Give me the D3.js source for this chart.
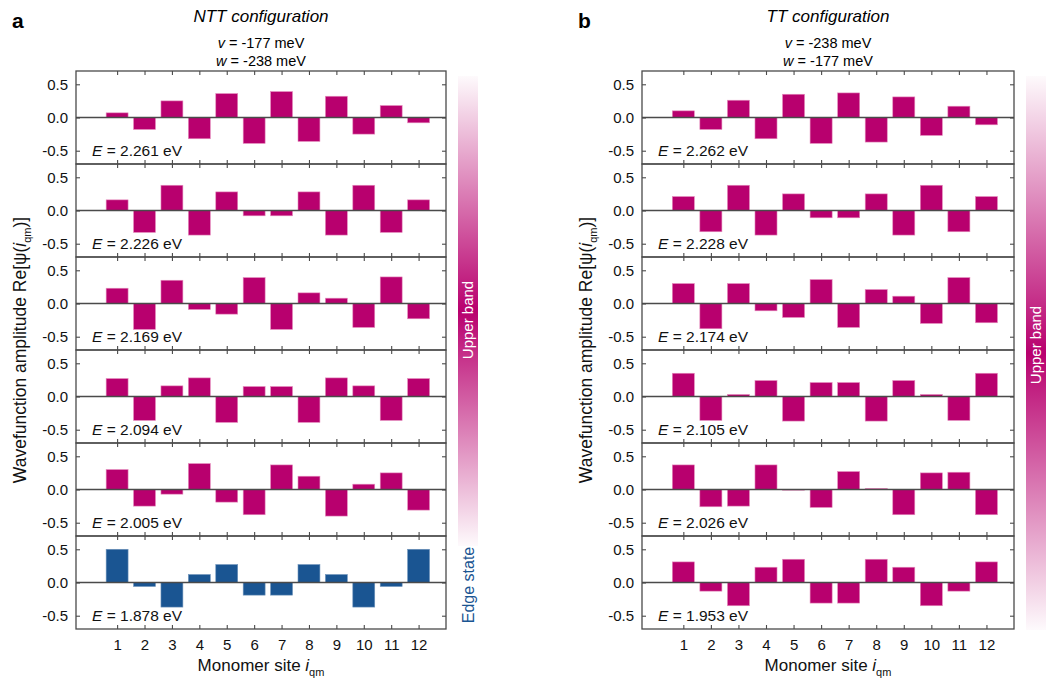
<!DOCTYPE html>
<html>
<head>
<meta charset="utf-8">
<script src="https://cdn.jsdelivr.net/npm/d3@7"></script>
<style>
  body { margin: 0; background: #fff; }
  svg { font-family: "Liberation Sans", Arial, sans-serif; }
</style>
</head>
<body>
<svg id="fig" width="1048" height="680"></svg>
<script>
// sites along the chain
var sites = [1,2,3,4,5,6,7,8,9,10,11,12];
var yTicks = [0.5, 0.0, -0.5];

// NTT configuration (panel a)
var nttEnergies = ["2.261", "2.226", "2.169", "2.094", "2.005", "1.878"];
var nttModes = [
  [0.07,-0.18,0.25,-0.32,0.36,-0.39,0.39,-0.36,0.32,-0.25,0.18,-0.08],
  [0.16,-0.33,0.38,-0.37,0.28,-0.08,-0.08,0.28,-0.37,0.38,-0.33,0.16],
  [0.23,-0.39,0.35,-0.09,-0.16,0.39,-0.39,0.16,0.08,-0.36,0.40,-0.23],
  [0.27,-0.36,0.16,0.28,-0.39,0.15,0.15,-0.39,0.28,0.16,-0.36,0.27],
  [0.30,-0.25,-0.07,0.39,-0.19,-0.38,0.37,0.20,-0.40,0.08,0.25,-0.31],
  [0.50,-0.06,-0.37,0.12,0.27,-0.19,-0.19,0.27,0.12,-0.37,-0.06,0.50]
];

// TT configuration (panel b)
var ttEnergies = ["2.262", "2.228", "2.174", "2.105", "2.026", "1.953"];
var ttModes = [
  [0.10,-0.18,0.26,-0.32,0.35,-0.39,0.37,-0.37,0.31,-0.27,0.17,-0.11],
  [0.21,-0.32,0.38,-0.37,0.25,-0.11,-0.11,0.25,-0.37,0.38,-0.32,0.21],
  [0.30,-0.38,0.30,-0.11,-0.21,0.36,-0.36,0.21,0.11,-0.30,0.39,-0.29],
  [0.35,-0.36,0.03,0.24,-0.37,0.21,0.21,-0.37,0.24,0.03,-0.36,0.35],
  [0.37,-0.26,-0.25,0.37,-0.01,-0.27,0.27,0.015,-0.38,0.25,0.26,-0.38],
  [0.31,-0.13,-0.35,0.23,0.35,-0.31,-0.31,0.35,0.23,-0.35,-0.13,0.31]
];

var magenta = "#b8006e";
var blue = "#1a5592";
var frameColor = "#4a4a4a";

var svg = d3.select("#fig");
var defs = svg.append("defs");

var top0 = 71, bottom0 = 629, nPanels = 6;
var panelH = (bottom0 - top0) / nPanels;

function addGradient(id, mid){
  var g = defs.append("linearGradient")
    .attr("id", id)
    .attr("x1", "0%").attr("y1", "0%")
    .attr("x2", "0%").attr("y2", "100%");
  g.append("stop").attr("offset", "0%").attr("stop-color", magenta).attr("stop-opacity", 0.02);
  g.append("stop").attr("offset", mid).attr("stop-color", magenta).attr("stop-opacity", 1);
  g.append("stop").attr("offset", "100%").attr("stop-color", magenta).attr("stop-opacity", 0.02);
}
addGradient("grad-a", "50%");
addGradient("grad-b", "50%");

function drawConfig(opts){
  var x = d3.scaleLinear().domain([-0.5, 13]).range([opts.left, opts.right]);
  var g = svg.append("g");

  // header
  g.append("text")
    .attr("x", opts.labelX).attr("y", 28)
    .style("font-size", "21px").style("font-weight", "bold")
    .text(opts.letter);
  var cx = (opts.left + opts.right) / 2;
  g.append("text")
    .attr("x", cx).attr("y", 22)
    .attr("text-anchor", "middle")
    .style("font-size", "17px").style("font-style", "italic")
    .text(opts.title);
  var vt = g.append("text").attr("x", cx).attr("y", 48).attr("text-anchor", "middle").style("font-size", "14.5px");
  vt.append("tspan").style("font-style", "italic").text("v");
  vt.append("tspan").text(" = " + opts.v + " meV");
  var wt = g.append("text").attr("x", cx).attr("y", 66).attr("text-anchor", "middle").style("font-size", "14.5px");
  wt.append("tspan").style("font-style", "italic").text("w");
  wt.append("tspan").text(" = " + opts.w + " meV");

  opts.modes.forEach(function(vals, i){
    var pTop = top0 + i * panelH, pBot = pTop + panelH;
    var y = d3.scaleLinear().domain([-0.7, 0.7]).range([pBot, pTop]);
    var p = g.append("g");
    var col = (opts.edgeIndex === i) ? blue : magenta;

    p.selectAll("rect.bar")
      .data(vals)
      .enter().append("rect")
      .attr("class", "bar")
      .attr("x", function(d, k){ return x(sites[k]) - 0.4 * (x(1) - x(0)); })
      .attr("width", 0.8 * (x(1) - x(0)))
      .attr("y", function(d){ return y(Math.max(0, d)); })
      .attr("height", function(d){ return Math.abs(y(d) - y(0)); })
      .attr("fill", col)
      .attr("stroke", col === blue ? "#6f94bb" : "#e58cbd")
      .attr("stroke-width", 0.6);

    // zero line
    p.append("line")
      .attr("x1", opts.left).attr("x2", opts.right)
      .attr("y1", y(0)).attr("y2", y(0))
      .attr("stroke", frameColor).attr("stroke-width", 1.3);

    // axes with inward ticks
    var ax = [
      p.append("g").attr("transform", "translate(" + opts.left + ",0)")
        .call(d3.axisLeft(y).tickValues(yTicks).tickSizeInner(-4).tickSizeOuter(0).tickPadding(8).tickFormat(d3.format(".1f"))),
      p.append("g").attr("transform", "translate(" + opts.right + ",0)")
        .call(d3.axisRight(y).tickValues(yTicks).tickSizeInner(-4).tickSizeOuter(0).tickFormat("")),
      p.append("g").attr("transform", "translate(0," + pTop + ")")
        .call(d3.axisTop(x).tickValues(sites).tickSizeInner(-4).tickSizeOuter(0).tickFormat("")),
      p.append("g").attr("transform", "translate(0," + pBot + ")")
        .call(d3.axisBottom(x).tickValues(sites).tickSizeInner(-4).tickSizeOuter(0).tickPadding(10)
          .tickFormat(i === nPanels - 1 ? d3.format("d") : ""))
    ];
    ax.forEach(function(a){
      a.select(".domain").remove();
      a.selectAll("line").attr("stroke", frameColor).attr("stroke-width", 1.1);
      a.selectAll("text").style("font-size", "15px").attr("fill", "#111")
        .style("font-family", "'Liberation Sans', Arial, sans-serif");
    });
    ax[0].selectAll("text").text(function(d){ return d3.format(".1f")(d).replace("−", "-"); });

    p.append("rect")
      .attr("x", opts.left).attr("y", pTop)
      .attr("width", opts.right - opts.left).attr("height", panelH)
      .attr("fill", "none")
      .attr("stroke", frameColor).attr("stroke-width", 1.3);

    var et = p.append("text")
      .attr("x", x(-0.5) + 16).attr("y", pBot - 8)
      .style("font-size", "15.5px").attr("fill", "#111");
    et.append("tspan").style("font-style", "italic").text("E");
    et.append("tspan").text(" = " + opts.energies[i] + " eV");
  });

  // x axis title
  var xt = g.append("text")
    .attr("x", cx).attr("y", 671)
    .attr("text-anchor", "middle")
    .style("font-size", "17px").attr("fill", "#111");
  xt.append("tspan").text("Monomer site ");
  xt.append("tspan").style("font-style", "italic").text("i");
  xt.append("tspan").attr("dy", 5).style("font-size", "11px").text("qm");

  // y axis title
  var yt = g.append("text")
    .attr("transform", "translate(" + opts.yLabelX + "," + ((top0 + bottom0) / 2) + ") rotate(-90)")
    .attr("text-anchor", "middle")
    .style("font-size", "17.5px").attr("fill", "#111");
  yt.append("tspan").text("Wavefunction amplitude Re[\u03c8(");
  yt.append("tspan").style("font-style", "italic").text("i");
  yt.append("tspan").attr("dy", 5).style("font-size", "11px").text("qm");
  yt.append("tspan").attr("dy", -5).text(")]");

  // band colour bar
  var bx = opts.right + 12;
  g.append("rect")
    .attr("x", bx).attr("y", opts.gradTop)
    .attr("width", 20).attr("height", opts.gradBottom - opts.gradTop)
    .attr("fill", "url(#" + opts.grad + ")");
  g.append("text")
    .attr("transform", "translate(" + (bx + 15) + "," + opts.upperY + ") rotate(-90)")
    .attr("text-anchor", "middle")
    .style("font-size", "15px").attr("fill", "#fff")
    .text("Upper band");
  if (opts.edgeIndex !== null) {
    g.append("text")
      .attr("transform", "translate(" + (bx + 15.5) + "," + opts.edgeY + ") rotate(-90)")
      .attr("text-anchor", "middle")
      .style("font-size", "16px").attr("fill", blue)
      .text("Edge state");
  }
}

drawConfig({
  letter: "a", labelX: 12, title: "NTT configuration", v: "-177", w: "-238",
  left: 76, right: 446, yLabelX: 26,
  modes: nttModes, energies: nttEnergies, edgeIndex: 5,
  grad: "grad-a", gradTop: 76, gradBottom: 546, upperY: 320, edgeY: 585
});

drawConfig({
  letter: "b", labelX: 578, title: "TT configuration", v: "-238", w: "-177",
  left: 642, right: 1014, yLabelX: 592,
  modes: ttModes, energies: ttEnergies, edgeIndex: null,
  grad: "grad-b", gradTop: 76, gradBottom: 630, upperY: 345, edgeY: 0
});
</script>
</body>
</html>
